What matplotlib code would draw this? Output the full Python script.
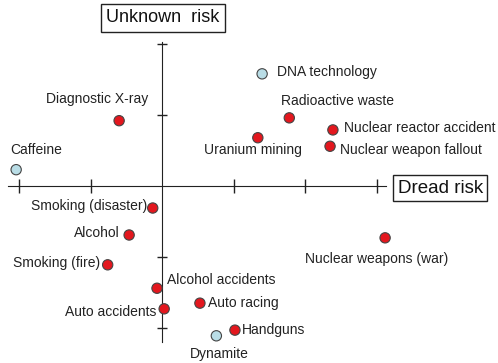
import matplotlib.pyplot as plt

# Dane: ryzyka (x = dread risk, y = unknown risk)
nazwy = ['Diagnostic X-ray', 'Caffeine', 'DNA technology', 'Radioactive waste',
         'Uranium mining', 'Nuclear reactor accident', 'Nuclear weapon fallout',
         'Smoking (disaster)', 'Alcohol', 'Smoking (fire)', 'Alcohol accidents',
         'Auto accidents', 'Auto racing', 'Handguns', 'Dynamite',
         'Nuclear weapons (war)']
dread = [-0.60, -2.04, 1.40, 1.78, 1.34, 2.39, 2.35, -0.13, -0.46, -0.76,
         -0.07, 0.03, 0.53, 1.02, 0.76, 3.12]
unknown = [0.92, 0.23, 1.58, 0.96, 0.68, 0.79, 0.56, -0.31, -0.69, -1.11,
           -1.44, -1.73, -1.65, -2.03, -2.11, -0.73]
niebieskie = ['Caffeine', 'DNA technology', 'Dynamite']

# Układ etykiet: przesunięcie w pikselach + wyrównanie
etykiety = {
    'Diagnostic X-ray': (-22, 22, 'center'),
    'Caffeine': (-6, 20, 'left'),
    'DNA technology': (15, 2, 'left'),
    'Radioactive waste': (-8, 17, 'left'),
    'Uranium mining': (-5, -12, 'center'),
    'Nuclear reactor accident': (11, 2, 'left'),
    'Nuclear weapon fallout': (10, -4, 'left'),
    'Smoking (disaster)': (-5, 2, 'right'),
    'Alcohol': (-9, 2, 'right'),
    'Smoking (fire)': (-8, 2, 'right'),
    'Alcohol accidents': (10, 8, 'left'),
    'Auto accidents': (-8, -3, 'right'),
    'Auto racing': (8, 0, 'left'),
    'Handguns': (7, 0, 'left'),
    'Dynamite': (3, -18, 'center'),
    'Nuclear weapons (war)': (-8, -21, 'center'),
}

plt.rcParams['font.family'] = ['Liberation Sans', 'DejaVu Sans']

fig = plt.figure(figsize=(4.98, 3.63), dpi=100)
ax = fig.add_axes([0, 0, 1, 1])
ax.set_xlim(-2.266, 4.699)
ax.set_ylim(-2.493, 2.620)

# Osie w środku
for s in ['top', 'right']:
    ax.spines[s].set_visible(False)
ax.spines['left'].set_position(('data', 0))
ax.spines['bottom'].set_position(('data', 0))
ax.spines['left'].set_bounds(-2.2, 2.03)
ax.spines['bottom'].set_bounds(-2.15, 3.13)
ax.spines['left'].set_color('#222222')
ax.spines['bottom'].set_color('#222222')
ax.set_xticks([-2, -1, 1, 2, 3])
ax.set_yticks([-2, -1, 1, 2])
ax.tick_params(axis='x', direction='inout', length=10, width=1, color='#222222',
               labelbottom=False)
ax.tick_params(axis='y', direction='inout', length=7, width=1, color='#222222',
               labelleft=False)
ax.patch.set_alpha(0)

kolory = ['#b9dde6' if n in niebieskie else '#e3171e' for n in nazwy]
ax.scatter(dread, unknown, s=55, c=kolory, edgecolors='#444444', linewidths=0.8,
           zorder=3, clip_on=False)

for n, x, y in zip(nazwy, dread, unknown):
    dx, dy, ha = etykiety[n]
    ax.annotate(n, (x, y), xytext=(dx, dy), textcoords='offset pixels',
                ha=ha, va='center', fontsize=10, color='#222222')

ax.text(0.01, 2.37, 'Unknown  risk', ha='center', va='center', fontsize=13,
        color='#111111',
        bbox=dict(boxstyle='square,pad=0.3', fc='white', ec='#222222', lw=1))
ax.text(3.89, -0.03, 'Dread risk', ha='center', va='center', fontsize=13.5,
        color='#111111',
        bbox=dict(boxstyle='square,pad=0.25', fc='white', ec='#222222', lw=1))

fig.savefig('out.png', dpi=100)
